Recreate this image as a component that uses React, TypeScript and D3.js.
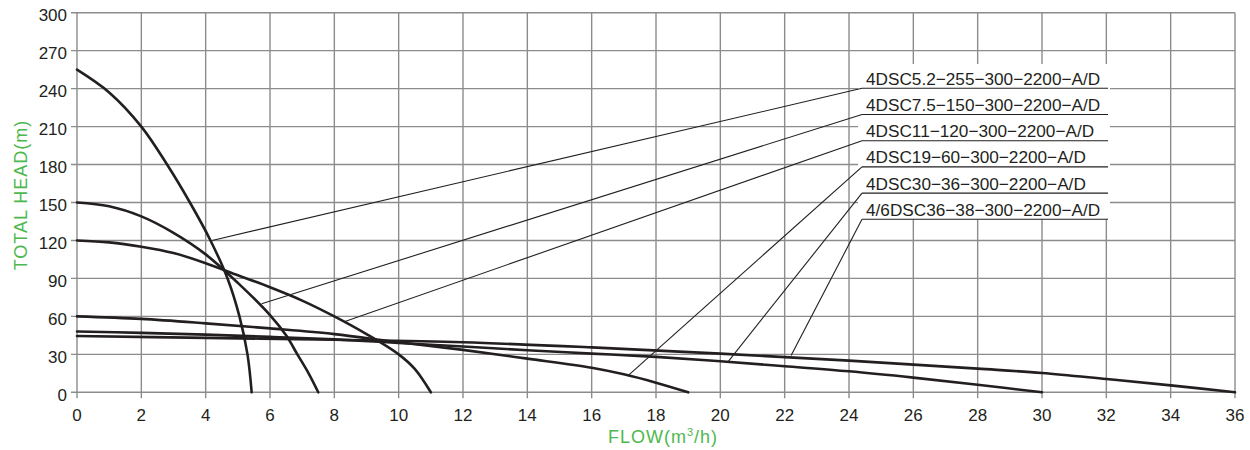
import React from 'react';
import * as d3 from 'd3';

// flow (m3/h) / head (m)
const modelNames = [
  '4DSC5.2−255−300−2200−A/D',
  '4DSC7.5−150−300−2200−A/D',
  '4DSC11−120−300−2200−A/D',
  '4DSC19−60−300−2200−A/D',
  '4DSC30−36−300−2200−A/D',
  '4/6DSC36−38−300−2200−A/D',
];

const flow52 = [0, 1, 2, 2.8, 3.51, 4.15, 4.68, 5.05, 5.3, 5.43];
const head52 = [255, 237, 210, 180, 150, 120, 90, 60, 30, 0];

const flow75 = [0, 1, 2, 3, 4, 5, 6, 6.5, 6.85, 7.2, 7.5];
const head75 = [150, 147, 139, 126, 109, 86.5, 61, 45, 30, 15, 0];

const flow11 = [0, 1, 2, 3, 4, 5, 6, 7, 8, 9, 10, 10.5, 11];
const head11 = [120, 118.5, 115, 110, 102, 92.5, 83, 72.5, 60, 46, 30, 18.5, 0];

const flow19 = [0, 2, 4, 6, 8, 10, 12, 14, 16, 17, 18, 19];
const head19 = [60, 58, 54.5, 50.5, 46, 39.5, 33.5, 26.6, 19.4, 14.2, 7.6, 0];

const flow30 = [0, 2, 4, 6, 8, 10, 12, 14, 16, 18, 20, 22, 24, 26, 28, 30];
const head30 = [48, 47, 45.6, 43.8, 41.8, 39, 36.2, 33.2, 30.6, 28, 24.5, 20.6, 16.6, 11.6, 6, 0];

const flow36 = [0, 4, 8, 12, 16, 20, 24, 28, 30, 32, 34, 36];
const head36 = [44.5, 43, 41.5, 39.5, 35.5, 30.6, 25, 18.7, 15.3, 10.5, 5.5, 0];

// where each label's leader touches its curve
const leaderFlow = [4.2, 5.74, 8.33, 17.14, 20.25, 22.2];
const leaderHead = [120, 70, 56, 13.4, 24.5, 29];

const xTicks = d3.range(0, 37, 2);
const yTicks = d3.range(0, 301, 30);

const curves = [
  [flow52, head52],
  [flow75, head75],
  [flow11, head11],
  [flow19, head19],
  [flow30, head30],
  [flow36, head36],
];

const W = 1250;
const H = 450;
const margin = { top: 12.7, right: 15, bottom: 57.7, left: 77 };
const green = '#4db84e';
const ink = '#231f20';
const gridColor = '#8c8c8c';
const font = 'Arial, "Liberation Sans", Helvetica, sans-serif';

export default function App() {
  const x = d3.scaleLinear().domain([0, 36]).range([margin.left, W - margin.right]);
  const y = d3.scaleLinear().domain([0, 300]).range([H - margin.bottom, margin.top]);

  const line = d3.line<[number, number]>()
    .x((d) => x(d[0]))
    .y((d) => y(d[1]))
    .curve(d3.curveCatmullRom.alpha(0.5));

  const labelX = 862;
  const labelRight = 1108;
  const firstLine = 88.3;
  const step = 26.2;

  return (
    <svg width={W} height={H} style={{ position: 'absolute', left: 0, top: 0, background: '#fff' }}
      fontFamily={font}>
      {/* grid */}
      <g stroke={gridColor} strokeWidth={1.4}>
        {xTicks.map((t) => (
          <line key={'vx' + t} x1={x(t)} x2={x(t)} y1={y(300)} y2={y(0) + 6} />
        ))}
        {yTicks.map((t) => (
          <line key={'hy' + t} x1={x(0) - 6} x2={x(36)} y1={y(t)} y2={y(t)} />
        ))}
      </g>

      {/* tick labels */}
      <g fill={ink} fontSize={17}>
        {yTicks.map((t) => (
          <text key={'ty' + t} x={x(0) - 10} y={y(t) + 8.5} textAnchor="end">{t}</text>
        ))}
        {xTicks.map((t) => (
          <text key={'tx' + t} x={x(t)} y={420.7} textAnchor="middle">{t}</text>
        ))}
      </g>

      {/* axis titles */}
      <text x={663} y={443} textAnchor="middle" fill={green} fontSize={18} letterSpacing={1}>
        FLOW(m<tspan fontSize={11} dy={-7}>3</tspan><tspan dy={7}>/h)</tspan>
      </text>
      <text transform="translate(27,195) rotate(-90)" textAnchor="middle" fill={green}
        fontSize={18} letterSpacing={1}>
        TOTAL HEAD(m)
      </text>

      {/* label box */}
      <rect x={labelX - 4} y={64} width={labelRight - labelX + 6} height={firstLine + step * 5 - 64}
        fill="#fff" />

      {/* curves */}
      <g fill="none" stroke={ink} strokeWidth={2.6} strokeLinecap="round">
        {curves.map(([fx, hy], i) => (
          <path key={'c' + i} d={line(fx.map((v, j) => [v, hy[j]]) as [number, number][]) || ''} />
        ))}
      </g>

      {/* leaders + labels */}
      <g stroke={ink} strokeWidth={1.1}>
        {modelNames.map((n, i) => {
          const ly = firstLine + step * i;
          return (
            <g key={'l' + i}>
              <line x1={x(leaderFlow[i])} y1={y(leaderHead[i])} x2={labelX} y2={ly} />
              <line x1={labelX} y1={ly} x2={labelRight} y2={ly} />
            </g>
          );
        })}
      </g>
      <g fill={ink} fontSize={17.2}>
        {modelNames.map((n, i) => (
          <text key={'n' + i} x={866} y={firstLine + step * i - 3.5}>{n}</text>
        ))}
      </g>
    </svg>
  );
}
